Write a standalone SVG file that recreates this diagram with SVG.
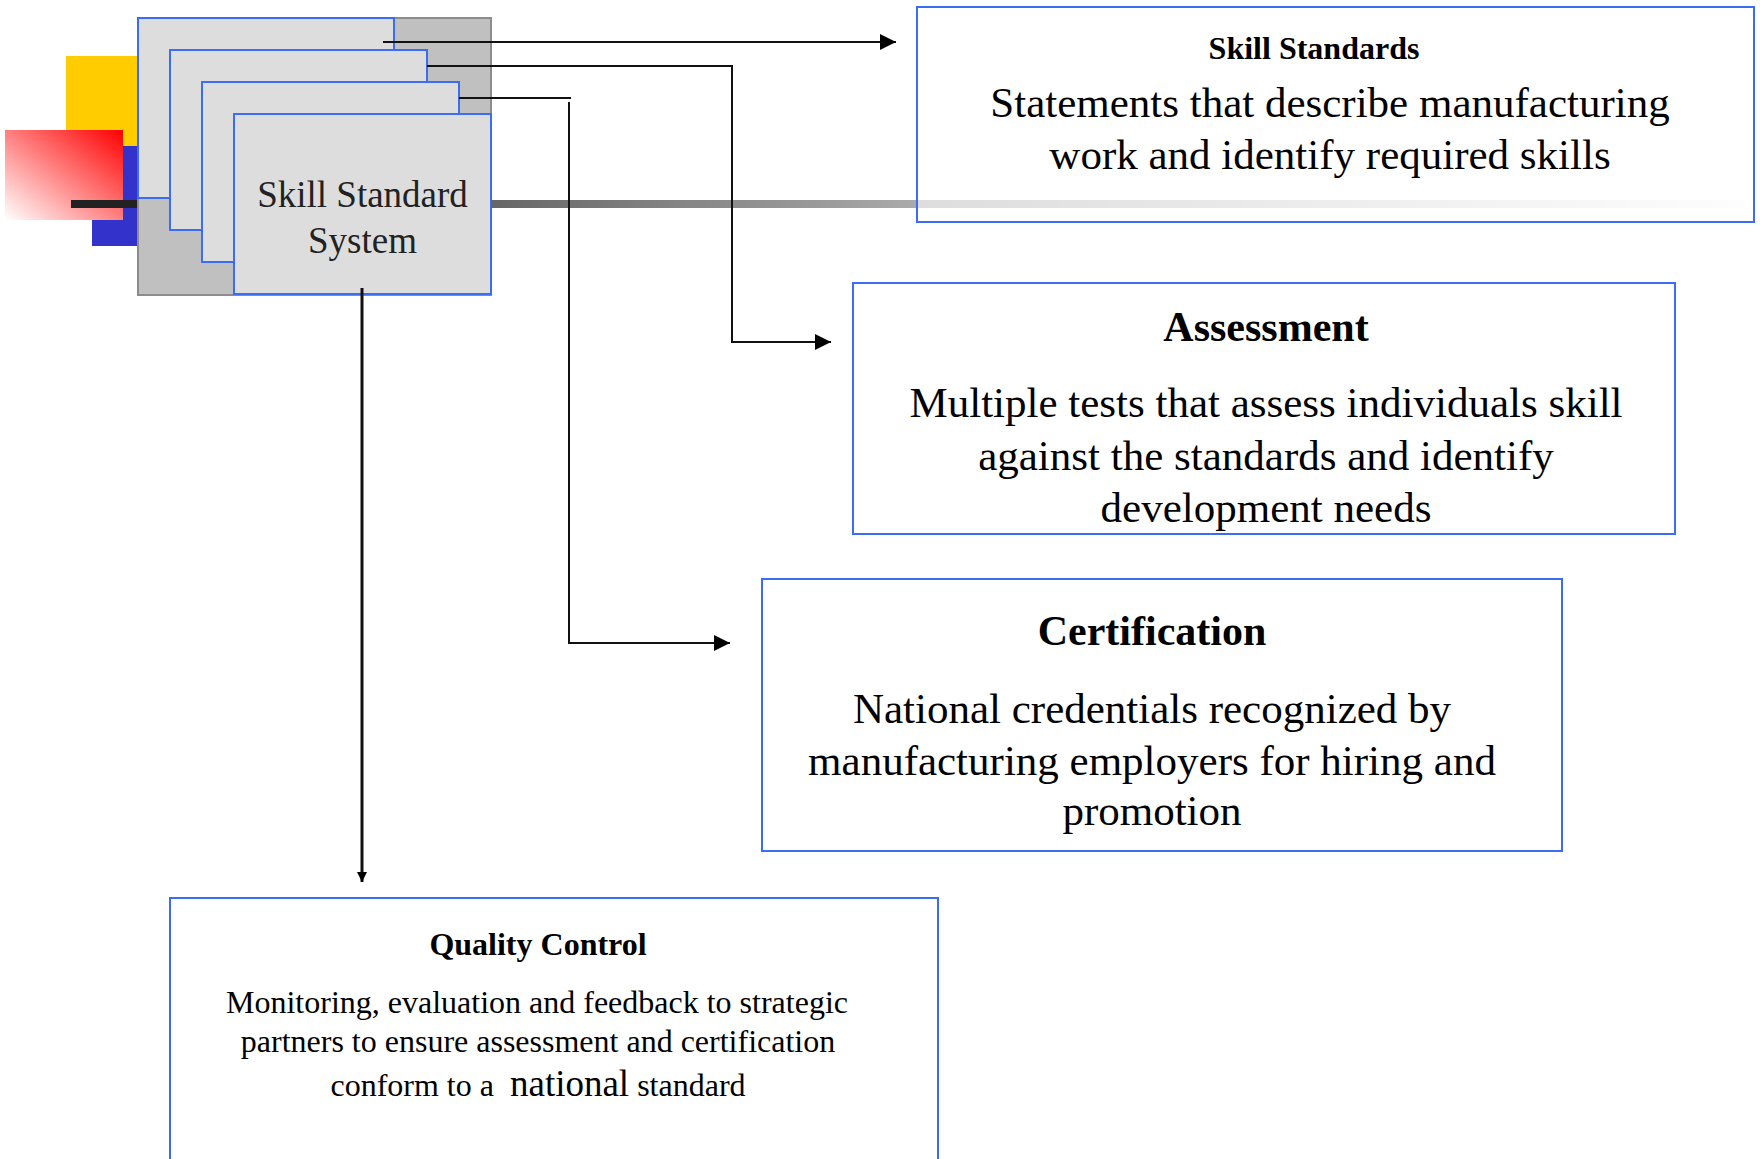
<svg xmlns="http://www.w3.org/2000/svg" width="1760" height="1159" viewBox="0 0 1760 1159">
<defs>
<linearGradient id="redGrad" x1="1" y1="0" x2="0" y2="1">
<stop offset="0" stop-color="#ff0000"/>
<stop offset="1" stop-color="#ffffff"/>
</linearGradient>
<linearGradient id="barGrad" gradientUnits="userSpaceOnUse" x1="491" y1="0" x2="1745" y2="0">
<stop offset="0" stop-color="#666666"/>
<stop offset="0.34" stop-color="#aaaaaa"/>
<stop offset="1" stop-color="#fafafa"/>
</linearGradient>
<marker id="arrowBig" markerUnits="userSpaceOnUse" viewBox="0 0 16 16" markerWidth="16" markerHeight="16" refX="16" refY="8" orient="auto">
<path d="M0,0 L16,8 L0,16 z" fill="#000"/>
</marker>
<marker id="arrowSmall" markerUnits="userSpaceOnUse" viewBox="0 0 10 10" markerWidth="10" markerHeight="10" refX="10" refY="5" orient="auto">
<path d="M0,0 L10,5 L0,10 z" fill="#000"/>
</marker>
</defs>
<style>
.card{fill:#dddddd;stroke:#3b6cf5;stroke-width:2}
.box{fill:#ffffff;stroke:#3b6cf5;stroke-width:2}
.serif{font-family:"Liberation Serif","Times New Roman",serif;text-anchor:middle;fill:#000}
.title{font-weight:bold}
.conn{fill:none;stroke:#111;stroke-width:2}
</style>
<rect width="1760" height="1159" fill="#ffffff"/>

<g id="decoration">
<rect x="66" y="56" width="72" height="90" fill="#ffcc00"/>
<rect x="92" y="146" width="46" height="100" fill="#3333cc"/>
<rect x="5" y="130" width="118" height="90" fill="url(#redGrad)"/>
<rect x="71" y="200" width="67" height="8" fill="#222222"/>
</g>

<g id="skill-standard-system">
<rect x="138" y="18" width="353" height="277" fill="#c0c0c0" stroke="#8c8c8c" stroke-width="2"/>
<rect class="card" x="138" y="18" width="256" height="180"/>
<rect class="card" x="170" y="50" width="257" height="180"/>
<rect class="card" x="202" y="82" width="257" height="180"/>
<rect class="card" x="234" y="114" width="257" height="180"/>
<text class="serif" x="362.5" y="207" font-size="37" style="fill:#222">Skill Standard</text>
<text class="serif" x="362.5" y="253" font-size="37" style="fill:#222">System</text>
</g>

<rect id="bar" x="491" y="200" width="1254" height="8" fill="url(#barGrad)"/>

<g id="skill-standards">
<rect class="box" x="917" y="7" width="837" height="215" style="fill-opacity:0.6"/>
<text class="serif title" x="1314" y="59" font-size="32">Skill Standards</text>
<text class="serif" x="1330" y="117" font-size="43">Statements that describe manufacturing</text>
<text class="serif" x="1330" y="169" font-size="43">work and identify required skills</text>
</g>

<g id="assessment">
<rect class="box" x="853" y="283" width="822" height="251"/>
<text class="serif title" x="1266" y="341" font-size="42">Assessment</text>
<text class="serif" x="1266" y="417" font-size="43">Multiple tests that assess individuals skill</text>
<text class="serif" x="1266" y="470" font-size="43">against the standards and identify</text>
<text class="serif" x="1266" y="522" font-size="43">development needs</text>
</g>

<g id="certification">
<rect class="box" x="762" y="579" width="800" height="272"/>
<text class="serif title" x="1152" y="645" font-size="42">Certification</text>
<text class="serif" x="1152" y="723" font-size="43">National credentials recognized by</text>
<text class="serif" x="1152" y="775" font-size="43">manufacturing employers for hiring and</text>
<text class="serif" x="1152" y="825" font-size="43">promotion</text>
</g>

<g id="quality-control">
<rect class="box" x="170" y="898" width="768" height="280"/>
<text class="serif title" x="538" y="955" font-size="32">Quality Control</text>
<text class="serif" x="537" y="1013" font-size="32">Monitoring, evaluation and feedback to strategic</text>
<text class="serif" x="538" y="1052" font-size="32">partners to ensure assessment and certification</text>
<text class="serif" x="538" y="1096" font-size="32" xml:space="preserve" style="white-space:pre">conform to a  <tspan font-size="37">national</tspan> standard</text>
</g>

<g id="connectors">
<path class="conn" d="M383,42 H896" marker-end="url(#arrowBig)"/>
<path class="conn" d="M427,66 H732 V342 H831" marker-end="url(#arrowBig)"/>
<path class="conn" d="M459,98 H571"/>
<path class="conn" d="M569,102 V643 H730" marker-end="url(#arrowBig)"/>
<path class="conn" d="M362,288 V882" style="stroke-width:3" marker-end="url(#arrowSmall)"/>
</g>
</svg>
